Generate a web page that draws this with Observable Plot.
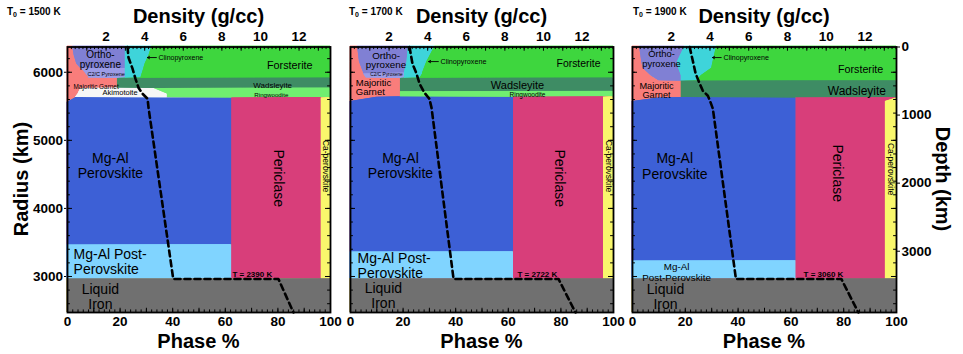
<!DOCTYPE html>
<html><head><meta charset="utf-8">
<script src="https://cdn.jsdelivr.net/npm/d3@7"></script>
<script src="https://cdn.jsdelivr.net/npm/@observablehq/plot@0.6"></script>
<style>
body{margin:0;background:#fff;}
#root{position:relative;width:963px;height:354px;overflow:hidden;background:#fff;font-family:"Liberation Sans",Arial,Helvetica,sans-serif;}
#root svg{position:absolute;left:0;top:0;}
.t{position:absolute;font-weight:bold;white-space:nowrap;line-height:1;color:#000;}
.t sub{font-size:0.7em;vertical-align:-0.25em;line-height:0;}
</style></head><body><div id="root"></div>
<script>
// ---------- data ----------
const R_TOP = 6371, R_BOT = 2471;
const DENS_MAX = 13.63;
const phaseNames = ["Majoritic Garnet","Mg-Al Perovskite","Mg-Al Post-Perovskite","Akimotoite","Orthopyroxene","C2/C Pyroxene","Clinopyroxene","Forsterite","Wadsleyite","Ringwoodite","Periclase","Ca-perovskite","Liquid Iron"];
const phaseColors = ["#f97d7b","#3d60d6","#80d4ff","#f6f6f6","#8080d4","#9c9ce6","#3ed4da","#3ed63e","#3e8c64","#70ee70","#d83e7a","#f9f76c","#707070"];
const phaseTicks = [0,20,40,60,80,100];
const radiusTicks = [3000,4000,5000,6000];
const depthTicks = [0,1000,2000,3000];
const densityTicks = [2,4,6,8,10,12];
const surfaceTemps = ["1500","1700","1900"];
const cmbTemps = ["2390","2722","3060"];

// phase percentages per radius; columns follow phaseNames
const radii1500 = [6371,6250,6120,6055,6050,5930,5915,5910,5770,5762,5680,5630,5622,5560,3470,3464,2966,2962,2471];
const widths1500 = [
 [2,0,0,0,20,0,10,68,0,0,0,0,0],
 [2.5,0,0,0,19.5,0,9,69,0,0,0,0,0],
 [3.5,0,0,0,18.5,0,7.5,70.5,0,0,0,0,0],
 [5,0,0,0,17,0,7,71,0,0,0,0,0],
 [5.5,0,0,0,0,16.5,7,71,0,0,0,0,0],
 [8,0,0,0,0,14,6,72,0,0,0,0,0],
 [8,0,0,0,0,14,6,72,0,0,0,0,0],
 [19,0,0,0,0,0,0,0,81,0,0,0,0],
 [19,0,0,0,0,0,0,0,81,0,0,0,0],
 [5,0,0,28,0,0,0,0,0,67,0,0,0],
 [4,0,0,34,0,0,0,0,0,62,0,0,0],
 [3,0,0,35,0,0,0,0,0,62,0,0,0],
 [3,59.5,0,0,0,0,0,0,0,0,34,3.5,0],
 [0,62.5,0,0,0,0,0,0,0,0,34,3.5,0],
 [0,62.5,0,0,0,0,0,0,0,0,34,3.5,0],
 [0,0,62.5,0,0,0,0,0,0,0,34,3.5,0],
 [0,0,62.5,0,0,0,0,0,0,0,34,3.5,0],
 [0,0,0,0,0,0,0,0,0,0,0,0,100],
 [0,0,0,0,0,0,0,0,0,0,0,0,100]
];
const radii1700 = [6371,6150,5990,5975,5915,5910,5720,5714,5640,5632,5570,3365,3359,2966,2962,2471];
const widths1700 = [
 [2.7,0,0,0,19.3,0,10,68,0,0,0,0,0],
 [3.4,0,0,0,18.1,0,7.5,71,0,0,0,0,0],
 [5,0,0,0,15.5,0,6.9,72.6,0,0,0,0,0],
 [5,0,0,0,0,15.5,6.9,72.6,0,0,0,0,0],
 [6,0,0,0,0,14.5,6,73.5,0,0,0,0,0],
 [19,0,0,0,0,0,0,0,81,0,0,0,0],
 [19,0,0,0,0,0,0,0,81,0,0,0,0],
 [19,0,0,0,0,0,0,0,0,81,0,0,0],
 [19,0,0,0,0,0,0,0,0,81,0,0,0],
 [10,52,0,0,0,0,0,0,0,0,34.2,3.8,0],
 [0,62,0,0,0,0,0,0,0,0,34.2,3.8,0],
 [0,62,0,0,0,0,0,0,0,0,34.2,3.8,0],
 [0,0,62,0,0,0,0,0,0,0,34.2,3.8,0],
 [0,0,62,0,0,0,0,0,0,0,34.2,3.8,0],
 [0,0,0,0,0,0,0,0,0,0,0,0,100],
 [0,0,0,0,0,0,0,0,0,0,0,0,100]
];
const radii1900 = [6371,6150,6060,5950,5875,5868,5630,5622,5570,3232,3226,2966,2962,2471];
const widths1900 = [
 [2.7,0,0,0,17,0,12.1,68.2,0,0,0,0,0],
 [3.5,0,0,0,13.5,0,13.5,69.5,0,0,0,0,0],
 [4,0,0,0,13.5,0,12.5,70,0,0,0,0,0],
 [7,0,0,0,11.5,0,7.5,74,0,0,0,0,0],
 [10,0,0,0,8.5,0,6,75.5,0,0,0,0,0],
 [18.5,0,0,0,0,0,0,0,81.5,0,0,0,0],
 [18.5,0,0,0,0,0,0,0,81.5,0,0,0,0],
 [10,52,0,0,0,0,0,0,0,0,38,0,0],
 [0,62,0,0,0,0,0,0,0,0,33.8,4.2,0],
 [0,62,0,0,0,0,0,0,0,0,33.8,4.2,0],
 [0,0,62,0,0,0,0,0,0,0,33.8,4.2,0],
 [0,0,62,0,0,0,0,0,0,0,33.8,4.2,0],
 [0,0,0,0,0,0,0,0,0,0,0,0,100],
 [0,0,0,0,0,0,0,0,0,0,0,0,100]
];

// density profiles (g/cc) vs radius (km)
const densR1500 = [6371,6216,6053,5906,5773,5684,5610,5477,2964,2964,2471];
const densD1500 = [3.11,3.16,3.37,3.52,3.68,3.89,4.15,4.20,5.48,10.93,11.71];
const densR1700 = [6371,6127,5980,5832,5699,5610,5477,2964,2964,2471];
const densD1700 = [3.06,3.21,3.42,3.58,3.83,4.09,4.20,5.34,10.78,11.66];
const densR1900 = [6371,6172,5980,5832,5728,5655,5551,5463,2964,2964,2471];
const densD1900 = [2.95,3.11,3.26,3.47,3.63,3.89,4.04,4.15,5.34,10.78,11.66];

// region labels (phase %, radius km)
const labels1500 = [
 {text:"Ortho-\npyroxene", x:12.5, r:6179, size:10, lh:1},
 {text:"C2/C Pyroxene", x:14.7, r:5978, size:5.5},
 {text:"Clinopyroxene", x:34.6, r:6216, size:7, anchor:"start"},
 {text:"Forsterite", x:84.5, r:6098, size:10.8},
 {text:"Majoritic Garnet", x:2.3, r:5788, size:6.4, anchor:"start"},
 {text:"Akimotoite", x:20, r:5699, size:7.5},
 {text:"Wadsleyite", x:78, r:5802, size:8},
 {text:"Ringwoodite", x:77.5, r:5669, size:6.2},
 {text:"Mg-Al\nPerovskite", x:16.3, r:4628, size:14, lh:1.08},
 {text:"Periclase", x:80.2, r:4444, size:14, rotate:90},
 {text:"Ca-perovskite", x:98, r:4621, size:8.5, rotate:90},
 {text:"Mg-Al Post-\nPerovskite", x:2.3, r:3215, size:14, anchor:"start", lh:1.05},
 {text:"Liquid\nIron", x:12.5, r:2700, size:14, lh:1.05}
];
const labels1700 = [
 {text:"Ortho-\npyroxene", x:13.5, r:6175, size:9.8, lh:1},
 {text:"C2/C Pyroxene", x:13.7, r:5962, size:4.8},
 {text:"Clinopyroxene", x:34.2, r:6157, size:7.2, anchor:"start"},
 {text:"Forsterite", x:86.7, r:6127, size:10.4},
 {text:"Majoritic\nGarnet", x:2, r:5772, size:9.5, anchor:"start", lh:0.98},
 {text:"Wadsleyite", x:63.5, r:5802, size:11},
 {text:"Ringwoodite", x:67.3, r:5670, size:6.5},
 {text:"Mg-Al\nPerovskite", x:19, r:4628, size:14, lh:1.08},
 {text:"Periclase", x:79.5, r:4444, size:14, rotate:90},
 {text:"Ca-perovskite", x:98, r:4621, size:8.5, rotate:90},
 {text:"Mg-Al Post-\nPerovskite", x:2.7, r:3160, size:14, anchor:"start", lh:1.05},
 {text:"Liquid\nIron", x:12.5, r:2712, size:14, lh:1.05}
];
const labels1900 = [
 {text:"Ortho-\npyroxene", x:11, r:6194, size:9.4, lh:1},
 {text:"Clinopyroxene", x:34.5, r:6216, size:7.1, anchor:"start"},
 {text:"Forsterite", x:86.4, r:6039, size:10.7},
 {text:"Majoritic\nGarnet", x:9.1, r:5728, size:9.2, lh:0.98},
 {text:"Wadsleyite", x:85, r:5728, size:12},
 {text:"Mg-Al\nPerovskite", x:16, r:4621, size:14, lh:1.08},
 {text:"Periclase", x:77.7, r:4517, size:14, rotate:90},
 {text:"Ca-perovskite", x:97.9, r:4577, size:8.5, rotate:90},
 {text:"Mg-Al\nPost-Perovskite", x:16.7, r:3063, size:9.8, lh:1.1},
 {text:"Liquid\nIron", x:12.5, r:2701, size:14, lh:1.05}
];
const arrows = [
 {x1:33.8, x2:30.4, r:6216},
 {x1:33.4, x2:29.7, r:6157},
 {x1:33.6, x2:30.3, r:6216}
];
const cmbLabelX = [62.7, 63.5, 64.8];

// ---------- layout ----------
const W = 963, H = 354, TOP = 46.5, BOTTOM = 312;
const panels = [
 {left:67, right:330, radii:radii1500, widths:widths1500, dR:densR1500, dD:densD1500, labels:labels1500, yAxis:"left"},
 {left:350, right:613, radii:radii1700, widths:widths1700, dR:densR1700, dD:densD1700, labels:labels1700, yAxis:null},
 {left:632, right:896, radii:radii1900, widths:widths1900, dR:densR1900, dD:densD1900, labels:labels1900, yAxis:"right"}
];
const svgStyle = "background:transparent;overflow:visible;font-family:'Liberation Sans',Arial,Helvetica,sans-serif;font-size:13.5px;font-weight:bold;color:#000;";
const minorR = d3.range(2600, 6371, 200);
const majorR = radiusTicks;
const minorP = d3.range(2, 100, 2);
const majorP = d3.range(10, 100, 10);
const minorD = d3.range(0.2, DENS_MAX, 0.2);
const majorD = d3.range(1, DENS_MAX, 1);

function longRows(radii, widths) {
  return radii.flatMap((r, i) => phaseNames.map((phase, j) => ({r, phase, w: widths[i][j]})));
}

function phasePlot(p, k) {
  const data = longRows(p.radii, p.widths);
  let yOpt;
  if (p.yAxis === "left") yOpt = {domain:[R_BOT,R_TOP], ticks: radiusTicks, tickFormat: v => String(v), tickSize:3, tickPadding:1.5, label:null};
  else if (p.yAxis === "right") yOpt = {domain:[R_BOT,R_TOP], axis:"right", ticks: depthTicks.map(d => R_TOP - d), tickFormat: v => String(Math.round(R_TOP - v)), tickSize:3, tickPadding:2, label:null};
  else yOpt = {domain:[R_BOT,R_TOP], axis:null};
  const textMarks = p.labels.map(l => Plot.text([l], {
    x:"x", y:"r", text:"text", fontSize:l.size, textAnchor:l.anchor || "middle",
    rotate:l.rotate || 0, lineHeight:l.lh || 1, fontWeight:"normal", fill:"#000"
  }));
  return Plot.plot({
    width:W, height:H, marginLeft:p.left, marginRight:W - p.right, marginTop:TOP, marginBottom:H - BOTTOM,
    style: svgStyle,
    x: {domain:[0,100], ticks:phaseTicks, tickFormat: v => String(v), tickSize:0, tickPadding:4, label:null},
    y: yOpt,
    color: {domain:phaseNames, range:phaseColors},
    marks: [
      Plot.areaX(data, {y:"r", x:"w", fill:"phase", stroke:"phase", strokeWidth:1, order:phaseNames, curve:"linear"}),
      Plot.areaX(data, {y:"r", x:"w", fill:"phase", order:phaseNames, curve:"linear"}),
      ...textMarks,
      Plot.arrow([arrows[k]], {x1:"x1", y1:"r", x2:"x2", y2:"r", headLength:4, strokeWidth:0.9, stroke:"#000"}),
      Plot.text([{x:cmbLabelX[k], r:3035, t:`T = ${cmbTemps[k]} K`}], {x:"x", y:"r", text:"t", textAnchor:"start", fontSize:8, fontWeight:"bold", fill:"#000"}),
      Plot.ruleY(minorR, {y:d => d, x1:0, x2:1.1, stroke:"#000", strokeWidth:1}),
      Plot.ruleY(majorR, {y:d => d, x1:0, x2:1.9, stroke:"#000", strokeWidth:1}),
      Plot.ruleY(minorR, {y:d => d, x1:98.9, x2:100, stroke:"#000", strokeWidth:1}),
      Plot.ruleY(majorR, {y:d => d, x1:98.1, x2:100, stroke:"#000", strokeWidth:1}),
      Plot.ruleX(minorP, {x:d => d, y1:R_BOT, y2:R_BOT + 38, stroke:"#000", strokeWidth:1}),
      Plot.ruleX(majorP, {x:d => d, y1:R_BOT, y2:R_BOT + 62, stroke:"#000", strokeWidth:1})
    ]
  });
}

function densityPlot(p) {
  const data = p.dR.map((r, i) => ({r, d: p.dD[i]}));
  return Plot.plot({
    width:W, height:H, marginLeft:p.left, marginRight:W - p.right, marginTop:TOP, marginBottom:H - BOTTOM,
    style: svgStyle,
    x: {domain:[0,DENS_MAX], axis:"top", ticks:densityTicks, tickFormat: v => String(v), tickSize:0, tickPadding:6, label:null},
    y: {domain:[R_BOT,R_TOP], axis:null},
    marks: [
      Plot.ruleX(minorD, {x:d => d, y1:R_TOP, y2:R_TOP - 38, stroke:"#000", strokeWidth:1}),
      Plot.ruleX(majorD, {x:d => d, y1:R_TOP, y2:R_TOP - 62, stroke:"#000", strokeWidth:1}),
      Plot.line(data, {x:"d", y:"r", stroke:"#000", strokeWidth:2.6, strokeDasharray:"6,4"}),
      Plot.frame({stroke:"#000", strokeWidth:1.8})
    ]
  });
}

const root = document.getElementById("root");
function addText(html, css) {
  const el = document.createElement("div");
  el.className = "t";
  el.innerHTML = html;
  el.style.cssText += css;
  root.appendChild(el);
}
panels.forEach((p, k) => {
  root.appendChild(phasePlot(p, k));
  root.appendChild(densityPlot(p));
  const cx = (p.left + p.right) / 2;
  addText("Density (g/cc)", `left:${cx}px;top:6px;font-size:20px;transform:translateX(-50%);`);
  addText("Phase %", `left:${cx}px;top:331px;font-size:20px;transform:translateX(-50%);`);
});
addText(`T<sub>0</sub> = ${surfaceTemps[0]} K`, "left:7px;top:6.5px;font-size:10px;");
addText(`T<sub>0</sub> = ${surfaceTemps[1]} K`, "left:349px;top:6.5px;font-size:10px;");
addText(`T<sub>0</sub> = ${surfaceTemps[2]} K`, "left:633px;top:6.5px;font-size:10px;");
addText("Radius (km)", "left:21px;top:179px;font-size:20px;transform:translate(-50%,-50%) rotate(-90deg);");
addText("Depth (km)", "left:943px;top:179px;font-size:20px;transform:translate(-50%,-50%) rotate(90deg);");
</script>
</body></html>
